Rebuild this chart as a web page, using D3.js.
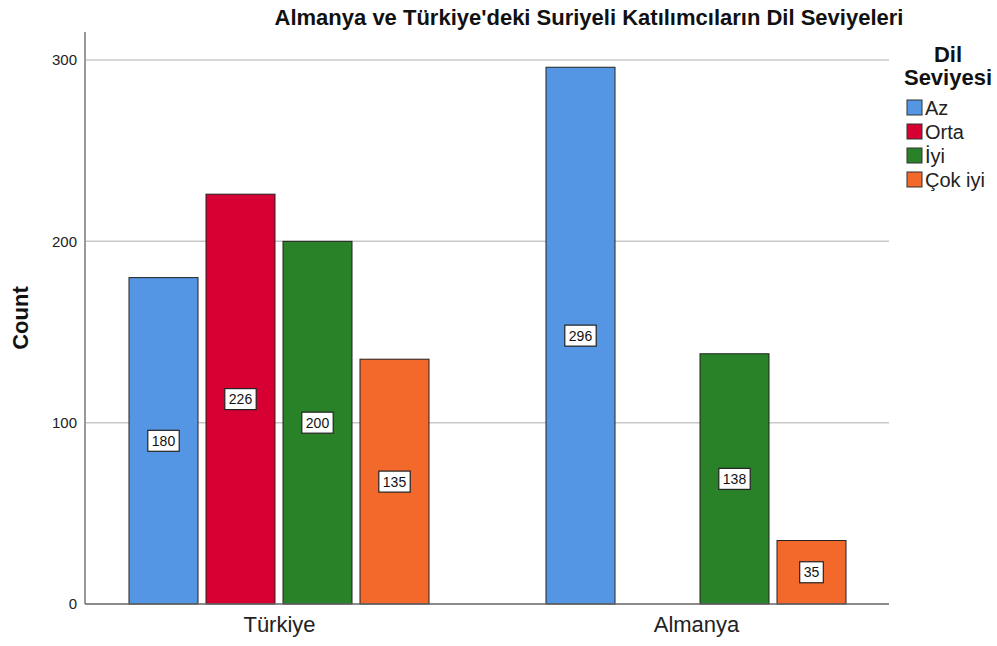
<!DOCTYPE html>
<html><head><meta charset="utf-8">
<script src="https://cdn.jsdelivr.net/npm/d3@7"></script>
<style>body{margin:0;background:#fff;font-family:Arial,"Liberation Sans",sans-serif}</style>
</head><body><svg id="c" width="997" height="646"></svg>
<script>
const countries = ["Türkiye", "Almanya"];
const levels = ["Az", "Orta", "İyi", "Çok iyi"];
const turkiyeValues = [180, 226, 200, 135];
const almanyaValues = [296, null, 138, 35];
const yTicks = [0, 100, 200, 300];
const colors = ["#5596e4", "#d70032", "#2a8228", "#f3692b"];

const FONT = "Arial, 'Liberation Sans', sans-serif";
const values = {"Türkiye": turkiyeValues, "Almanya": almanyaValues};
const svg = d3.select("#c");
const plot = {left: 85, right: 889, top: 32, bottom: 604};

const y = d3.scaleLinear().domain([0, 300]).range([604, 60]);
const x0 = d3.scalePoint().domain(countries).range([279, 696]);
const x1 = d3.scaleBand().domain(levels).range([-150, 150]).paddingInner(8/77).paddingOuter(0);
const color = d3.scaleOrdinal().domain(levels).range(colors);

// gridlines
svg.append("g").selectAll("line").data(yTicks.filter(d => d > 0)).join("line")
  .attr("x1", plot.left).attr("x2", plot.right)
  .attr("y1", d => y(d)).attr("y2", d => y(d))
  .attr("stroke", "#c8c8c8").attr("stroke-width", 1.5);

// y axis
const yAxis = svg.append("g").attr("transform", `translate(${plot.left},0)`)
  .call(d3.axisLeft(y).tickValues(yTicks).tickSize(0).tickPadding(8));
yAxis.select(".domain").remove();
yAxis.selectAll("text").attr("font-size", 15).attr("font-family", FONT).attr("fill", "#222");
svg.append("line").attr("x1", plot.left).attr("x2", plot.left).attr("y1", plot.top).attr("y2", plot.bottom)
  .attr("stroke", "#999").attr("stroke-width", 2);

// bars
const data = [];
countries.forEach(c => levels.forEach((l, i) => { if (values[c][i] != null) data.push({c, l, v: values[c][i]}); }));
svg.append("g").selectAll("rect").data(data).join("rect")
  .attr("x", d => x0(d.c) + x1(d.l))
  .attr("width", x1.bandwidth())
  .attr("y", d => y(d.v))
  .attr("height", d => y(0) - y(d.v))
  .attr("fill", d => color(d.l))
  .attr("stroke", "#222").attr("stroke-width", 1);

// x axis line
svg.append("line").attr("x1", plot.left).attr("x2", plot.right).attr("y1", plot.bottom).attr("y2", plot.bottom)
  .attr("stroke", "#666").attr("stroke-width", 1.5);
const xAxis = svg.append("g").attr("transform", `translate(0,${plot.bottom})`)
  .call(d3.axisBottom(x0).tickSize(0).tickPadding(12));
xAxis.select(".domain").remove();
xAxis.selectAll("text").attr("font-size", 22).attr("font-family", FONT).attr("fill", "#222");

// value labels
const lab = svg.append("g").selectAll("g").data(data).join("g")
  .attr("transform", d => `translate(${x0(d.c) + x1(d.l) + x1.bandwidth()/2},${y(d.v/2)})`);
lab.append("rect")
  .attr("x", d => -(String(d.v).length * 7.8 + 8)/2)
  .attr("width", d => String(d.v).length * 7.8 + 8)
  .attr("y", -10.5).attr("height", 21)
  .attr("fill", "#fff").attr("stroke", "#222").attr("stroke-width", 1.2);
lab.append("text").attr("text-anchor", "middle").attr("dy", "0.36em")
  .attr("font-size", 14).attr("fill", "#111").text(d => d.v);

// y title
svg.append("text").attr("transform", "translate(28,318) rotate(-90)")
  .attr("text-anchor", "middle").attr("font-size", 22).attr("font-weight", "bold").attr("fill", "#111").text("Count");

// title
svg.append("text").attr("x", 589).attr("y", 25).attr("text-anchor", "middle")
  .attr("font-size", 22).attr("font-weight", "bold").attr("fill", "#111")
  .text("Almanya ve Türkiye'deki Suriyeli Katılımcıların Dil Seviyeleri");

// legend
svg.append("text").attr("x", 948).attr("y", 62).attr("text-anchor", "middle")
  .attr("font-size", 22).attr("font-weight", "bold").attr("fill", "#111").text("Dil");
svg.append("text").attr("x", 948).attr("y", 85).attr("text-anchor", "middle")
  .attr("font-size", 22).attr("font-weight", "bold").attr("fill", "#111").text("Seviyesi");
const leg = svg.append("g").selectAll("g").data(levels).join("g")
  .attr("transform", (d, i) => `translate(907,${100 + i * 24})`);
leg.append("rect").attr("width", 15).attr("height", 15)
  .attr("fill", d => color(d)).attr("stroke", "#333").attr("stroke-width", 1);
leg.append("text").attr("x", 18).attr("y", 8).attr("dy", "0.36em")
  .attr("font-size", 20).attr("fill", "#222").text(d => d);
</script></body></html>
